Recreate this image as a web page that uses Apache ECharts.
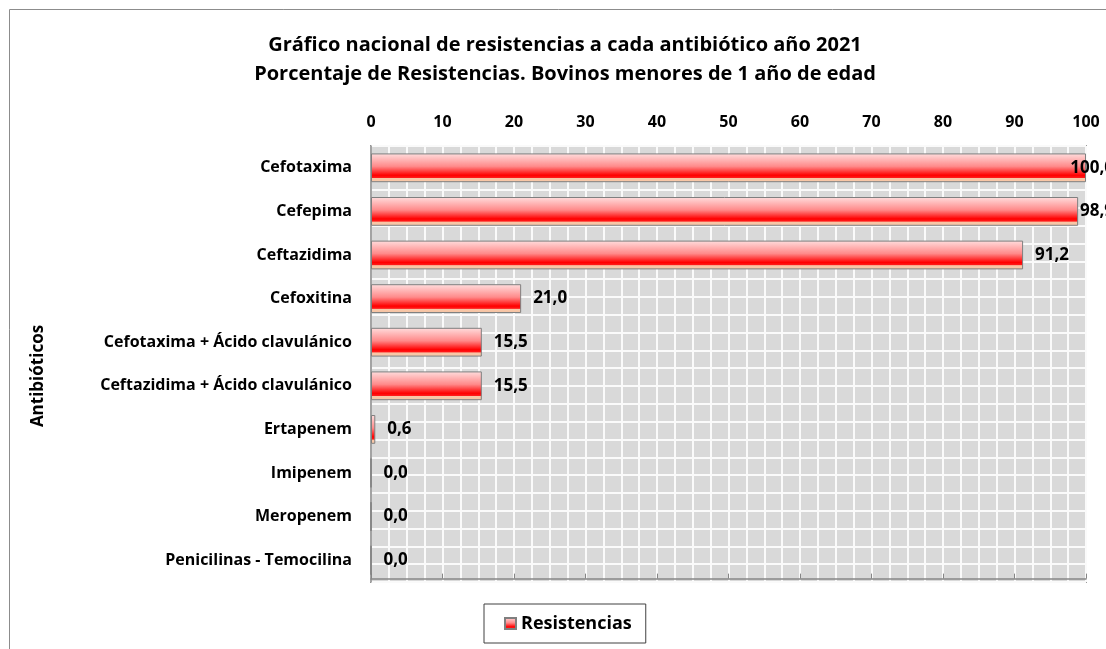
<!DOCTYPE html>
<html>
<head>
<meta charset="utf-8">
<script src="https://cdn.jsdelivr.net/npm/echarts@6/dist/echarts.min.js"></script>
<style>
  html, body { margin: 0; padding: 0; background: #fff; }
  #chart { width: 1106px; height: 649px; }
</style>
</head>
<body>
<div id="chart"></div>
<script>
  // datos
  var categories = [
    'Cefotaxima',
    'Cefepima',
    'Ceftazidima',
    'Cefoxitina',
    'Cefotaxima + Ácido clavulánico',
    'Ceftazidima + Ácido clavulánico',
    'Ertapenem',
    'Imipenem',
    'Meropenem',
    'Penicilinas - Temocilina'
  ];
  var resistencias = [100.0, 98.9, 91.2, 21.0, 15.5, 15.5, 0.6, 0.0, 0.0, 0.0];
  var xTicks = [0, 10, 20, 30, 40, 50, 60, 70, 80, 90, 100];

  var FONT = '"Open Sans", "Noto Sans", sans-serif';
  var LABEL_SIZE = 17;
  var LABEL_DIST = 12;
  var LABEL_LIMIT = 1114; // borde derecho del area del grafico (fuera de la imagen)

  var chart = echarts.init(document.getElementById('chart'));

  var barColor = new echarts.graphic.LinearGradient(0, 0, 0, 1, [
    {offset: 0, color: '#ffdede'},
    {offset: 0.45, color: '#ff8a8a'},
    {offset: 0.76, color: '#ff0000'},
    {offset: 0.84, color: '#ff1a1a'},
    {offset: 0.87, color: '#f8c6a6'},
    {offset: 1, color: '#f8c6a6'}
  ]);

  function fmt(v) {
    return v.toFixed(1).replace('.', ',');
  }

  var option = {
    animation: false,
    textStyle: {fontFamily: FONT},
    title: {
      text: 'Gráfico nacional de resistencias a cada antibiótico año 2021\nPorcentaje de Resistencias. Bovinos menores de 1 año de edad',
      left: 560,
      textAlign: 'center',
      top: 26,
      textStyle: {fontFamily: FONT, fontSize: 20, fontWeight: 'bold', color: '#000', lineHeight: 29}
    },
    legend: {
      data: ['Resistencias'],
      left: 484,
      top: 604,
      orient: 'horizontal',
      icon: 'rect',
      itemWidth: 11,
      itemHeight: 11,
      itemGap: 5,
      padding: [9, 14, 9, 20],
      borderColor: '#404040',
      borderWidth: 1,
      textStyle: {fontFamily: FONT, fontSize: 18, fontWeight: 'bold', color: '#000', lineHeight: 21}
    },
    graphic: [
      {
        type: 'rect',
        z: -10,
        shape: {x: 9.5, y: 9.5, width: 1200, height: 700},
        style: {fill: 'none', stroke: '#8c8c8c', lineWidth: 1}
      },
      {
        type: 'text',
        x: 38,
        y: 376,
        rotation: Math.PI / 2,
        style: {
          text: 'Antibióticos',
          fontFamily: FONT,
          fontSize: 17,
          fontWeight: 'bold',
          fill: '#000',
          align: 'center',
          verticalAlign: 'middle'
        }
      }
    ],
    grid: {
      left: 371,
      right: 20,
      top: 146,
      bottom: 67,
      show: true,
      backgroundColor: '#d9d9d9',
      borderColor: '#9a9a9a',
      borderWidth: 2
    },
    xAxis: [
      {
        type: 'value',
        position: 'top',
        min: xTicks[0],
        max: xTicks[xTicks.length - 1],
        interval: 10,
        axisLine: {show: true, lineStyle: {color: '#868686', width: 1.5}},
        axisTick: {show: true, length: 5, lineStyle: {color: '#868686'}},
        axisLabel: {
          margin: 16,
          fontFamily: FONT,
          fontSize: 16,
          fontWeight: 'bold',
          color: '#000'
        },
        splitLine: {show: false}
      },
      {
        // trama de la zona de trazado
        type: 'value',
        position: 'bottom',
        min: -0.53,
        max: 39.47,
        interval: 1,
        axisLine: {show: false},
        axisTick: {show: false},
        axisLabel: {show: false},
        splitLine: {show: true, lineStyle: {color: '#fafafa', width: 2}}
      }
    ],
    yAxis: [
      {
        type: 'category',
        data: categories,
        inverse: true,
        axisLine: {show: true, lineStyle: {color: '#868686', width: 1.5}},
        axisTick: {show: false},
        axisLabel: {
          margin: 19,
          fontFamily: FONT,
          fontSize: 16,
          fontWeight: 'bold',
          color: '#000'
        },
        splitLine: {show: false}
      },
      {
        type: 'value',
        position: 'right',
        min: -0.19,
        max: 24.28,
        interval: 1,
        axisLine: {show: false},
        axisTick: {show: false},
        axisLabel: {show: false},
        splitLine: {show: true, lineStyle: {color: '#fafafa', width: 2}}
      }
    ],
    series: [
      {
        name: 'Resistencias',
        type: 'bar',
        xAxisIndex: 0,
        yAxisIndex: 0,
        data: resistencias,
        barCategoryGap: '34%',
        itemStyle: {color: barColor, borderColor: '#7f7f7f', borderWidth: 1},
        label: {
          show: true,
          position: 'right',
          distance: LABEL_DIST,
          fontFamily: FONT,
          fontSize: LABEL_SIZE,
          fontWeight: 'bold',
          color: '#000',
          formatter: function (p) {
            return fmt(p.value);
          }
        }
      }
    ]
  };

  chart.setOption(option);

  // como Excel: las etiquetas que se salen del area se desplazan hacia dentro
  var ctx = document.createElement('canvas').getContext('2d');
  ctx.font = 'bold ' + LABEL_SIZE + 'px ' + FONT;
  var barData = resistencias.map(function (v) {
    var end = chart.convertToPixel({xAxisIndex: 0}, v);
    var w = ctx.measureText(fmt(v)).width;
    var over = end + LABEL_DIST + w - LABEL_LIMIT;
    if (over > 0) {
      return {value: v, label: {offset: [-over, 0]}};
    }
    return v;
  });
  chart.setOption({series: [{data: barData}]});
</script>
</body>
</html>
